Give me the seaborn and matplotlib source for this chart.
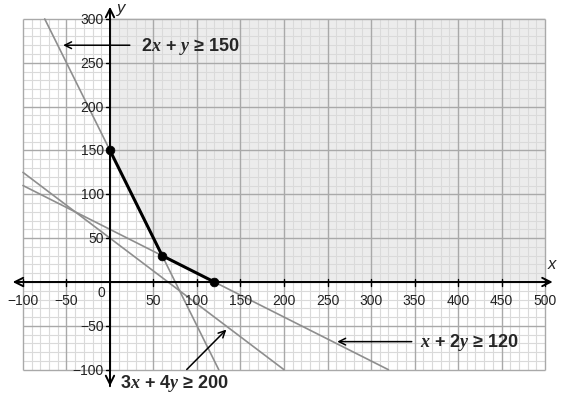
import numpy as np
import seaborn as sns
import matplotlib.pyplot as plt
import pandas as pd

sns.set_theme(style="white")
plt.rcParams['font.family'] = ['Liberation Sans Narrow', 'Liberation Sans', 'DejaVu Sans']
plt.rcParams['mathtext.fontset'] = 'custom'
plt.rcParams['mathtext.it'] = 'Liberation Serif:italic:bold'
plt.rcParams['mathtext.rm'] = 'Liberation Sans Narrow:bold'

# === data ===
x_ticks = [-100, -50, 50, 100, 150, 200, 250, 300, 350, 400, 450, 500]
y_ticks = [-100, -50, 50, 100, 150, 200, 250, 300]

# constraint lines (end points inside the grid)
line_2x_y_x = [-75, 125]
line_2x_y_y = [300, -100]
line_3x_4y_x = [-100, 200]
line_3x_4y_y = [125, -100]
line_x_2y_x = [-100, 320]
line_x_2y_y = [110, -100]

# feasible region corners
corner_x = [0, 60, 120]
corner_y = [150, 30, 0]
region_x = [0, 0, 60, 120, 500, 500]
region_y = [300, 150, 30, 0, 0, 300]

fig = plt.figure(figsize=(5.76, 4.02), dpi=100)
ax = fig.add_axes([0, 0, 1, 1])
ax.set_xlim(-126.4, 535.6)
ax.set_ylim(-135.7, 322.7)
ax.axis('off')

# shaded region
ax.fill(region_x, region_y, color='#ececec', zorder=0)

# grid paper
minor_col = '#dadada'
major_col = '#a9a9a9'
for gx in range(-100, 501, 10):
    major = gx % 50 == 0
    ax.vlines(gx, -100, 300, color=major_col if major else minor_col,
              lw=1.0 if major else 0.8, zorder=1 if major else 0.5)
for gy in range(-100, 301, 10):
    major = gy % 50 == 0
    ax.hlines(gy, -100, 500, color=major_col if major else minor_col,
              lw=1.0 if major else 0.8, zorder=1 if major else 0.5)

# constraint lines
for lx, ly in [(line_2x_y_x, line_2x_y_y), (line_3x_4y_x, line_3x_4y_y),
               (line_x_2y_x, line_x_2y_y)]:
    df = pd.DataFrame({"x": lx, "y": ly})
    sns.lineplot(data=df, x="x", y="y", sort=False, color='#8e8e8e', lw=1.2, ax=ax, zorder=2)

# feasible boundary
df_c = pd.DataFrame({"x": corner_x, "y": corner_y})
sns.lineplot(data=df_c, x="x", y="y", sort=False, color='black', lw=2.2, ax=ax, zorder=4)
sns.scatterplot(data=df_c, x="x", y="y", color='black', s=40, ax=ax, zorder=5, edgecolor='black')

# axes with arrows
ax.annotate('', xy=(-115, 0), xytext=(512, 0),
            arrowprops=dict(arrowstyle='<->', color='black', lw=1.4, mutation_scale=15), zorder=3)
ax.annotate('', xy=(0, 317), xytext=(0, -122),
            arrowprops=dict(arrowstyle='->', color='black', lw=1.4, mutation_scale=15), zorder=3)
ax.annotate('', xy=(0, -122), xytext=(0, 0),
            arrowprops=dict(arrowstyle='->', color='black', lw=1.4, mutation_scale=15), zorder=3)
ax.text(508, 12, 'x', fontsize=12, style='italic', ha='center', va='bottom', family=['Liberation Sans', 'DejaVu Sans'])
ax.text(8, 313, 'y', fontsize=12, style='italic', ha='left', va='center', family=['Liberation Sans', 'DejaVu Sans'])

# ticks and labels
for t in x_ticks:
    ax.plot([t, t], [-5, 3], color='black', lw=1.0, zorder=3)
    ax.text(t, -12, '\u2212' + str(-t) if t < 0 else str(t), fontsize=10, ha='center', va='top', color='#222222')
for t in y_ticks:
    ax.plot([-5, 0], [t, t], color='black', lw=1.0, zorder=3)
    ax.text(-7, t, '\u2212' + str(-t) if t < 0 else str(t), fontsize=10, ha='right', va='center', color='#222222')
ax.text(-5, -3, '0', fontsize=10, ha='right', va='top', color='#222222')

# labels with arrows
arrow_kw = dict(arrowstyle='->', color='black', lw=1.1, mutation_scale=12)
ax.annotate('', xy=(-57, 270), xytext=(26, 270), arrowprops=arrow_kw, zorder=6)
ax.text(36, 270, r'2$x$ + $y$ ≥ 150', fontsize=13, fontweight='bold', ha='left', va='center', zorder=6)
ax.annotate('', xy=(258, -68), xytext=(350, -68), arrowprops=arrow_kw, zorder=6)
ax.text(356, -68, r'$x$ + 2$y$ ≥ 120', fontsize=13, fontweight='bold', ha='left', va='center', zorder=6)
ax.annotate('', xy=(136, -52), xytext=(86, -102), arrowprops=arrow_kw, zorder=6)
ax.text(11, -115, r'3$x$ + 4$y$ ≥ 200', fontsize=13, fontweight='bold', ha='left', va='center', zorder=6)

fig.savefig('out.png', dpi=100, facecolor='white')
